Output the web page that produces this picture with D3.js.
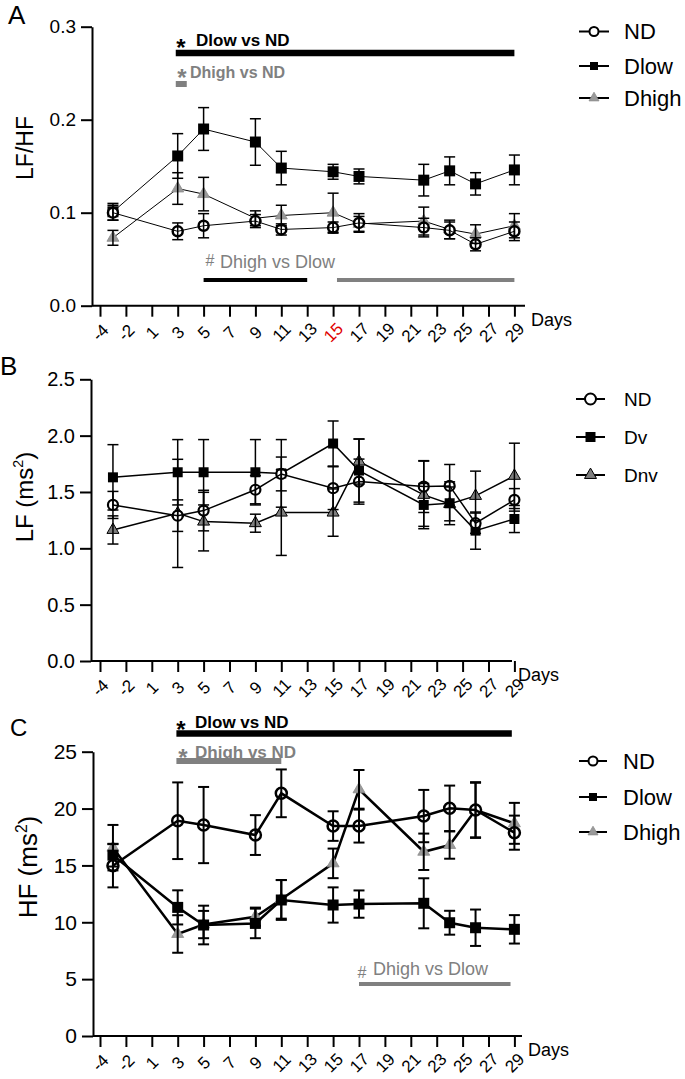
<!DOCTYPE html>
<html><head><meta charset="utf-8">
<script src="https://cdn.jsdelivr.net/npm/d3@7"></script>
<style>
body{margin:0;background:#fff}
svg{display:block}
text{font-family:"Liberation Sans",Arial,Helvetica,sans-serif}
</style>
</head><body>
<svg id="chart" width="685" height="1079"></svg>
<script>
// ---------------- DATA ----------------
const days = [-3, 3, 5, 9, 11, 15, 17, 22, 24, 26, 29];
const tickDays = [-4, -2, 1, 3, 5, 7, 9, 11, 13, 15, 17, 19, 21, 23, 25, 27, 29];

// Panel A : LF/HF
const A_ND        = [0.100, 0.080, 0.086, 0.091, 0.082, 0.084, 0.089, 0.084, 0.081, 0.066, 0.080];
const A_ND_err    = [0.008, 0.009, 0.013, 0.007, 0.006, 0.006, 0.010, 0.010, 0.009, 0.007, 0.010];
const A_Dlow      = [0.101, 0.161, 0.190, 0.176, 0.148, 0.144, 0.139, 0.135, 0.145, 0.131, 0.146];
const A_Dlow_err  = [0.009, 0.024, 0.023, 0.025, 0.018, 0.008, 0.008, 0.017, 0.015, 0.012, 0.016];
const A_Dhigh     = [0.073, 0.126, 0.120, 0.094, 0.097, 0.100, 0.088, 0.091, 0.082, 0.077, 0.086];
const A_Dhigh_err = [0.008, 0.017, 0.018, 0.008, 0.011, 0.021, 0.008, 0.015, 0.010, 0.010, 0.013];
const A_yTicks = [0, 0.1, 0.2, 0.3];
const A_names = ["ND", "Dlow", "Dhigh"];

// Panel B : LF (ms2)
const B_ND        = [1.385, 1.290, 1.335, 1.520, 1.660, 1.534, 1.592, 1.548, 1.554, 1.223, 1.430];
const B_ND_err    = [0.12, 0.14, 0.18, 0.125, 0.15, 0.19, 0.20, 0.23, 0.19, 0.09, 0.10];
const B_Dv        = [1.630, 1.675, 1.675, 1.675, 1.665, 1.930, 1.690, 1.385, 1.400, 1.157, 1.260];
const B_Dv_err    = [0.29, 0.29, 0.29, 0.29, 0.30, 0.20, 0.28, 0.19, 0.19, 0.165, 0.12];
const B_Dnv       = [1.163, 1.310, 1.237, 1.223, 1.317, 1.317, 1.770, 1.474, 1.394, 1.465, 1.643];
const B_Dnv_err   = [0.125, 0.48, 0.26, 0.08, 0.38, 0.21, 0.20, 0.30, 0.15, 0.22, 0.29];
const B_yTicks = [0, 0.5, 1.0, 1.5, 2.0, 2.5];
const B_names = ["ND", "Dv", "Dnv"];

// Panel C : HF (ms2)
const C_ND        = [14.97, 18.93, 18.55, 17.67, 21.34, 18.46, 18.46, 19.34, 20.02, 19.87, 17.88];
const C_ND_err    = [1.9, 3.37, 3.35, 1.75, 2.1, 1.3, 1.45, 2.3, 2.0, 2.45, 1.5];
const C_Dlow      = [15.90, 11.31, 9.76, 9.90, 11.96, 11.52, 11.60, 11.67, 9.96, 9.52, 9.38];
const C_Dlow_err  = [1.0, 1.5, 1.7, 1.3, 1.75, 1.55, 1.2, 2.2, 1.05, 1.6, 1.25];
const C_Dhigh     = [16.56, 8.97, 9.80, 10.49, 12.02, 15.18, 21.69, 16.20, 16.79, 19.87, 18.70];
const C_Dhigh_err = [2.0, 1.65, 1.2, 0.8, 1.7, 1.3, 1.7, 1.6, 1.2, 2.4, 1.8];
const C_yTicks = [0, 5, 10, 15, 20, 25];
const C_names = ["ND", "Dlow", "Dhigh"];

// significance annotations (text and day ranges)
const A_sigSymbols = ["*", "*", "#"];
const A_sigTexts   = ["Dlow vs ND", "Dhigh vs ND", "Dhigh vs Dlow"];
const A_sigRanges  = [[[2.85, 29]], [[2.85, 3.7]], [[5, 13], [15.3, 29]]];
const C_sigSymbols = ["*", "*", "#"];
const C_sigTexts   = ["Dlow vs ND", "Dhigh vs ND", "Dhigh vs Dlow"];
const C_sigRanges  = [[[2.9, 28.8]], [[2.9, 11]], [[17, 28.7]]];

// ---------------- DRAWING ----------------
const svg = d3.select("#chart");
const S = 25.9;       // spacing between tick positions
const X0 = 100;       // first tick
const GRAY = "#808080";
const FONT = '"Liberation Sans",Arial,Helvetica,sans-serif';

function makeX() {
  return d3.scaleLinear().domain([-4, -2, 1, 29]).range([X0, X0 + S, X0 + 2 * S, X0 + 16 * S]);
}

function drawPanel(cfg) {
  const g = svg.append("g");
  const x = makeX();
  const y = d3.scaleLinear().domain([0, cfg.ymax]).range([cfg.yBottom, cfg.yTop]);

  // Y axis
  const ya = d3.axisLeft(y).tickValues(cfg.yTicks).tickSize(11).tickSizeOuter(0)
    .tickPadding(5).tickFormat(cfg.yFmt);
  const gy = g.append("g").attr("transform", `translate(${cfg.ax},0)`).call(ya);
  gy.select(".domain").attr("stroke", "#000").attr("stroke-width", 2);
  gy.selectAll(".tick line").attr("stroke", "#000").attr("stroke-width", 2);
  gy.selectAll(".tick text").style("font-size", cfg.yFont + "px").attr("fill", "#000")
    .style("font-family", FONT);

  // X axis
  const xa = d3.axisBottom(x).tickValues(tickDays).tickSize(11).tickSizeOuter(0).tickFormat(d => d);
  const gx = g.append("g").attr("transform", `translate(0,${cfg.yBottom})`).call(xa);
  gx.select(".domain").remove();
  gx.selectAll(".tick line").attr("stroke", "#000").attr("stroke-width", 2);
  gx.selectAll(".tick text")
    .attr("y", 0).attr("dy", null)
    .attr("text-anchor", "middle").attr("dominant-baseline", "central")
    .attr("transform", "translate(0,27) rotate(-45)")
    .style("font-size", "17px")
    .style("font-family", FONT)
    .attr("fill", d => (cfg.redTick === d ? "#e00000" : "#000"));
  g.append("line").attr("x1", cfg.ax).attr("x2", cfg.xEnd)
    .attr("y1", cfg.yBottom).attr("y2", cfg.yBottom)
    .attr("stroke", "#000").attr("stroke-width", 2);
  g.append("text").text("Days").attr("x", cfg.xEnd + 6).attr("y", cfg.yBottom + 20)
    .attr("font-size", 18);

  // Y label
  const yl = g.append("text").attr("text-anchor", "middle")
    .attr("transform", `translate(${cfg.ylX},${cfg.ylY}) rotate(-90)`)
    .attr("font-size", cfg.ylFont);
  if (cfg.ylSup) {
    yl.append("tspan").text(cfg.ylabel);
    yl.append("tspan").text("2").attr("font-size", cfg.ylFont * 0.6).attr("dy", -cfg.ylFont * 0.4);
    yl.append("tspan").text(")").attr("dy", cfg.ylFont * 0.4);
  } else {
    yl.text(cfg.ylabel);
  }

  // panel letter
  g.append("text").text(cfg.letter).attr("x", cfg.letterX).attr("y", cfg.letterY)
    .attr("font-size", cfg.letterFont);

  // series
  const series = cfg.series.map(s => ({
    ...s,
    pts: days.map((d, i) => ({ d, v: s.values[i], e: s.errs[i] }))
  }));
  const line = d3.line().x(p => x(p.d)).y(p => y(p.v));

  function drawMarkers(s) {
    const mg = g.append("g");
    if (s.shape === "circle") {
      mg.selectAll("circle").data(s.pts).join("circle")
        .attr("cx", p => x(p.d)).attr("cy", p => y(p.v)).attr("r", cfg.circR)
        .attr("fill", "#fff").attr("stroke", "#000").attr("stroke-width", cfg.circSW);
    } else if (s.shape === "square") {
      const sym = d3.symbol().type(d3.symbolSquare).size(cfg.sqSide * cfg.sqSide);
      mg.selectAll("path").data(s.pts).join("path")
        .attr("d", sym).attr("transform", p => `translate(${x(p.d)},${y(p.v)})`)
        .attr("fill", "#000");
    } else {
      const ts = cfg.triSide;
      const sym = d3.symbol().type(d3.symbolTriangle).size(Math.sqrt(3) / 4 * ts * ts);
      mg.selectAll("path").data(s.pts).join("path")
        .attr("d", sym).attr("transform", p => `translate(${x(p.d)},${y(p.v)})`)
        .attr("fill", cfg.triFill).attr("stroke", cfg.triStroke).attr("stroke-width", cfg.triSW);
    }
  }
  function drawLine(s) {
    g.append("path").attr("d", line(s.pts)).attr("fill", "none")
      .attr("stroke", "#000").attr("stroke-width", cfg.lineW);
  }
  function drawErr(s) {
    const eg = g.append("g").attr("stroke", "#000").attr("stroke-width", cfg.errW);
    s.pts.forEach(p => {
      const cx = x(p.d), yt = y(p.v + p.e), yb = y(p.v - p.e), c = 5.5;
      eg.append("line").attr("x1", cx).attr("x2", cx).attr("y1", yt).attr("y2", yb);
      eg.append("line").attr("x1", cx - c).attr("x2", cx + c).attr("y1", yt).attr("y2", yt);
      eg.append("line").attr("x1", cx - c).attr("x2", cx + c).attr("y1", yb).attr("y2", yb);
    });
  }
  const [sND, sLow, sHigh] = series;
  drawLine(sHigh); drawMarkers(sHigh);
  drawLine(sLow); drawMarkers(sLow);
  drawMarkers(sND);
  series.forEach(drawErr);
  drawLine(sND);

  // legend
  series.forEach((s, i) => {
    const ly = cfg.legY[i];
    const lg = g.append("g");
    lg.append("line").attr("x1", cfg.legX1).attr("x2", cfg.legX2).attr("y1", ly).attr("y2", ly)
      .attr("stroke", "#000").attr("stroke-width", 2);
    const mx = (cfg.legX1 + cfg.legX2) / 2;
    if (s.shape === "circle") {
      lg.append("circle").attr("cx", mx).attr("cy", ly).attr("r", cfg.legCircR)
        .attr("fill", "#fff").attr("stroke", "#000").attr("stroke-width", 2);
    } else if (s.shape === "square") {
      lg.append("path").attr("d", d3.symbol().type(d3.symbolSquare).size(cfg.legSq * cfg.legSq)())
        .attr("transform", `translate(${mx},${ly})`).attr("fill", "#000");
    } else {
      const ts = cfg.legTri;
      lg.append("path").attr("d", d3.symbol().type(d3.symbolTriangle).size(Math.sqrt(3) / 4 * ts * ts)())
        .attr("transform", `translate(${mx},${ly})`)
        .attr("fill", cfg.triFill).attr("stroke", cfg.triStroke).attr("stroke-width", cfg.triSW);
    }
    lg.append("text").text(s.name).attr("x", cfg.legTX).attr("y", ly)
      .attr("dominant-baseline", "central").attr("font-size", cfg.legFont);
  });

  // significance annotations
  (cfg.sig || []).forEach(a => {
    g.append("text").text(a.symbol).attr("x", a.sx).attr("y", a.sy)
      .attr("font-size", a.sFont).attr("font-weight", a.bold ? "bold" : "normal")
      .attr("text-anchor", "middle").style("fill", a.color);
    g.append("text").text(a.text).attr("x", a.tx).attr("y", a.ty)
      .attr("font-size", a.tFont).attr("font-weight", a.bold ? "bold" : "normal")
      .style("fill", a.color);
    a.ranges.forEach((r, k) => {
      g.append("line").attr("x1", x(r[0])).attr("x2", x(r[1]))
        .attr("y1", a.by).attr("y2", a.by)
        .attr("stroke", a.barColors[k]).attr("stroke-width", a.bw);
    });
  });
}

// Panel A
drawPanel({
  letter: "A", letterX: 8, letterY: 24, letterFont: 26,
  yTop: 26.7, yBottom: 305.7, ymax: 0.3, yTicks: A_yTicks, yFmt: d3.format(".1f"), yFont: 19,
  ax: 92, xEnd: 525, redTick: 15,
  ylabel: "LF/HF", ylSup: false, ylX: 33, ylY: 148, ylFont: 23,
  lineW: 1, errW: 1.5, circR: 5, circSW: 2.5, sqSide: 11, triSide: 12,
  triFill: "#9a9a9a", triStroke: "#8c8c8c", triSW: 0.8,
  series: [
    { name: A_names[0], shape: "circle", values: A_ND, errs: A_ND_err },
    { name: A_names[1], shape: "square", values: A_Dlow, errs: A_Dlow_err },
    { name: A_names[2], shape: "triangle", values: A_Dhigh, errs: A_Dhigh_err }
  ],
  legY: [31.5, 66, 98], legX1: 579, legX2: 609, legTX: 624, legFont: 22,
  legCircR: 4.5, legSq: 8, legTri: 10,
  sig: [
    { symbol: A_sigSymbols[0], text: A_sigTexts[0], ranges: A_sigRanges[0], color: "#000", bold: true,
      sx: 181, sy: 56, sFont: 24, tx: 196, ty: 46, tFont: 17, by: 53, bw: 6.5, barColors: ["#000"] },
    { symbol: A_sigSymbols[1], text: A_sigTexts[1], ranges: A_sigRanges[1], color: GRAY, bold: true,
      sx: 182, sy: 86, sFont: 24, tx: 190, ty: 78, tFont: 16, by: 84, bw: 6, barColors: [GRAY] },
    { symbol: A_sigSymbols[2], text: A_sigTexts[2], ranges: A_sigRanges[2], color: GRAY, bold: false,
      sx: 210, sy: 266, sFont: 16, tx: 220, ty: 268, tFont: 18, by: 280, bw: 4, barColors: ["#000", GRAY] }
  ]
});

// Panel B
drawPanel({
  letter: "B", letterX: 0, letterY: 375, letterFont: 26,
  yTop: 379.3, yBottom: 661, ymax: 2.5, yTicks: B_yTicks, yFmt: d3.format(".1f"), yFont: 20,
  ax: 91, xEnd: 512, redTick: null,
  ylabel: "LF (ms", ylSup: true, ylX: 33, ylY: 497, ylFont: 24,
  lineW: 1.5, errW: 1.5, circR: 5, circSW: 2.2, sqSide: 10, triSide: 12,
  triFill: "#7f7f7f", triStroke: "#000", triSW: 1,
  series: [
    { name: B_names[0], shape: "circle", values: B_ND, errs: B_ND_err },
    { name: B_names[1], shape: "square", values: B_Dv, errs: B_Dv_err },
    { name: B_names[2], shape: "triangle", values: B_Dnv, errs: B_Dnv_err }
  ],
  legY: [399, 437, 475], legX1: 576, legX2: 605, legTX: 624, legFont: 19,
  legCircR: 5.5, legSq: 10, legTri: 12,
  sig: []
});

// Panel C
drawPanel({
  letter: "C", letterX: 10, letterY: 736, letterFont: 24,
  yTop: 751.7, yBottom: 1036, ymax: 25, yTicks: C_yTicks, yFmt: d3.format("d"), yFont: 21,
  ax: 93, xEnd: 522, redTick: null,
  ylabel: "HF (ms", ylSup: true, ylX: 37, ylY: 867, ylFont: 26,
  lineW: 2.5, errW: 2, circR: 5.5, circSW: 2.5, sqSide: 11, triSide: 12,
  triFill: "#9a9a9a", triStroke: "#8c8c8c", triSW: 0.8,
  series: [
    { name: C_names[0], shape: "circle", values: C_ND, errs: C_ND_err },
    { name: C_names[1], shape: "square", values: C_Dlow, errs: C_Dlow_err },
    { name: C_names[2], shape: "triangle", values: C_Dhigh, errs: C_Dhigh_err }
  ],
  legY: [761, 797, 832], legX1: 579, legX2: 607, legTX: 623, legFont: 22,
  legCircR: 4.5, legSq: 8, legTri: 10,
  sig: [
    { symbol: C_sigSymbols[0], text: C_sigTexts[0], ranges: C_sigRanges[0], color: "#000", bold: true,
      sx: 181, sy: 737.5, sFont: 24, tx: 195, ty: 728, tFont: 17, by: 733.5, bw: 6.5, barColors: ["#000"] },
    { symbol: C_sigSymbols[1], text: C_sigTexts[1], ranges: C_sigRanges[1], color: GRAY, bold: true,
      sx: 183, sy: 765.5, sFont: 24, tx: 195, ty: 758, tFont: 17, by: 761, bw: 6, barColors: [GRAY] },
    { symbol: C_sigSymbols[2], text: C_sigTexts[2], ranges: C_sigRanges[2], color: GRAY, bold: false,
      sx: 362, sy: 978, sFont: 16, tx: 373, ty: 975, tFont: 18, by: 984, bw: 4, barColors: [GRAY] }
  ]
});
</script>
</body></html>
